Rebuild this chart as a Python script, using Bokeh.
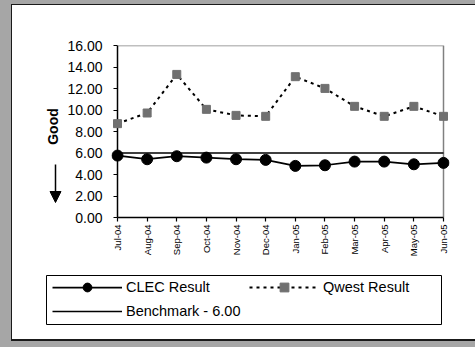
from math import pi
from bokeh.plotting import figure
from bokeh.layouts import column, row
from bokeh.models import (Range1d, NumeralTickFormatter, Legend, LegendItem,
                          Arrow, NormalHead, Spacer)
from bokeh.core.properties import value
from bokeh.embed import file_html
from bokeh.resources import INLINE

# ---------------- data ----------------
months = ["Jul-04", "Aug-04", "Sep-04", "Oct-04", "Nov-04", "Dec-04",
          "Jan-05", "Feb-05", "Mar-05", "Apr-05", "May-05", "Jun-05"]
clec_result = [5.76, 5.42, 5.70, 5.57, 5.42, 5.36, 4.80, 4.86, 5.20, 5.20, 4.95, 5.08]
qwest_result = [8.73, 9.72, 13.31, 10.06, 9.50, 9.41, 13.10, 12.01, 10.34, 9.41, 10.34, 9.41]
benchmark = [6.00, 6.00, 6.00, 6.00, 6.00, 6.00, 6.00, 6.00, 6.00, 6.00, 6.00, 6.00]
y_ticks = [0, 2, 4, 6, 8, 10, 12, 14, 16]

FONT = "Liberation Sans"
GRAY = "#a6a6a6"
DARK = "#1a1a1a"
W = 475
NAN = float("nan")


def solid(width, height, color):
    return Spacer(width=width, height=height, margin=0,
                  styles={"background-color": color})


def page_fig(width, height, x0, y0, **borders):
    """white figure whose data coordinates equal page pixels inside its frame"""
    bl, br = borders.get("left", 0), borders.get("right", 0)
    bt, bb = borders.get("top", 0), borders.get("bottom", 0)
    f = figure(width=width, height=height, output_backend="svg", toolbar_location=None,
               x_range=Range1d(x0 + bl, x0 + width - br),
               y_range=Range1d(y0 + height - bb, y0 + bt),
               x_axis_location=None, y_axis_location=None,
               min_border_left=bl, min_border_right=br, min_border_top=bt,
               min_border_bottom=bb, border_fill_color="white",
               background_fill_color="white")
    f.grid.visible = False
    f.outline_line_color = None
    return f


MAIN_TOP, MAIN_H = 5, 257
B_TOP, B_BOTTOM = 40, 45        # borders of the chart (page y 45..217)
A_X, A_W = 12, 50               # column holding "Good" and the arrow

# ---------------- "Good" column ----------------
a = page_fig(A_W, MAIN_H, A_X, MAIN_TOP, top=B_TOP, bottom=B_BOTTOM)
a.text(x=[52], y=[126], text=["Good"], angle=pi / 2, text_align="center",
       text_baseline="middle", text_font=value(FONT), text_font_style="bold",
       text_font_size="14px", text_color="black")
a.add_layout(Arrow(x_start=55, y_start=164, x_end=55, y_end=202,
                   line_color="black", line_width=1.5,
                   end=NormalHead(size=11, fill_color="black", line_color="black")))

# ---------------- main chart ----------------
x = list(range(len(months)))
x_end = len(months) - 1
frame_px = 326.0                 # plot-area width in pixels
pad_px = 6
pad = pad_px * x_end / frame_px  # room so the edge markers are not clipped
p = figure(width=W - A_X - A_W, height=MAIN_H, output_backend="svg",
           toolbar_location=None,
           x_range=Range1d(-pad, x_end + pad), y_range=Range1d(y_ticks[0], y_ticks[-1]),
           min_border_left=49, min_border_right=26, min_border_top=B_TOP,
           min_border_bottom=B_BOTTOM, border_fill_color="white",
           background_fill_color="white")
p.grid.visible = False
p.outline_line_color = None

# plot-area border: gray top/right, black value axis on the left
p.line([x[0], x[-1], x[-1]], [y_ticks[-1], y_ticks[-1], y_ticks[0]],
       line_color="#808080", line_width=1.5)
p.line([x[0], x[0]], [y_ticks[0], y_ticks[-1]], line_color="black", line_width=1.5)

bench_r = p.line(x, benchmark, line_color="black", line_width=1.5)
q_line = p.line(x, qwest_result, line_color="black", line_width=2, line_dash="3 4")
q_pts = p.scatter(x, qwest_result, marker="square", size=8, fill_color="#707070",
                  line_color="#707070")
c_line = p.line(x, clec_result, line_color="black", line_width=1.75)
c_pts = p.scatter(x, clec_result, marker="circle", size=11, fill_color="black",
                  line_color="black")

p.yaxis.ticker = y_ticks
p.yaxis.formatter = NumeralTickFormatter(format="0.00")
p.xaxis.ticker = x
p.xaxis.bounds = (x[0], x[-1])
p.xaxis.major_label_overrides = {i: m for i, m in enumerate(months)}
p.xaxis.major_label_orientation = pi / 2
for ax in (p.xaxis[0], p.yaxis[0]):
    ax.major_tick_line_color = "black"
    ax.major_tick_line_width = 1.2
    ax.minor_tick_line_color = None
    ax.major_label_text_font = FONT
    ax.major_label_text_color = "black"
p.xaxis.axis_line_color = "black"
p.xaxis.axis_line_width = 1.5
p.xaxis.major_tick_out = 4
p.xaxis.major_tick_in = 0
p.xaxis.major_label_text_font_size = "9.5px"
p.xaxis.major_label_standoff = 3
p.yaxis.axis_line_color = None
p.yaxis.major_tick_out = 4 - pad_px
p.yaxis.major_tick_in = pad_px
p.yaxis.major_label_text_font_size = "14px"
p.yaxis.major_label_standoff = 9

# ---------------- legend strip ----------------
C_TOP, C_H = 262, 77
c = page_fig(W - A_X, C_H, A_X, C_TOP)
c.quad(left=46, right=441, top=275, bottom=324, fill_color="white",
       line_color="black", line_width=1)
lc_line = c.line([NAN], [NAN], line_color="black", line_width=1.75)
lc_pts = c.scatter([NAN], [NAN], marker="circle", size=11, fill_color="black",
                   line_color="black")
lq_line = c.line([NAN], [NAN], line_color="black", line_width=2, line_dash="3 4")
lq_pts = c.scatter([NAN], [NAN], marker="square", size=8, fill_color="#707070",
                   line_color="#707070")
lb_line = c.line([NAN], [NAN], line_color="black", line_width=1.5)

legend = Legend(items=[LegendItem(label="CLEC Result", renderers=[lc_line, lc_pts]),
                       LegendItem(label="Qwest Result", renderers=[lq_line, lq_pts]),
                       LegendItem(label="Benchmark - 6.00", renderers=[lb_line])],
                location=(40, 17), orientation="horizontal", ncols=2,
                glyph_width=70, glyph_height=22, label_height=22, label_width=121,
                label_standoff=4, spacing=2, padding=0, margin=0,
                border_line_color=None, background_fill_alpha=0,
                label_text_font=FONT, label_text_font_size="14.5px",
                label_text_color="black")
c.add_layout(legend, "center")

# ---------------- frame of the picture ----------------
layout = column(
    solid(W, 4, GRAY),
    row(solid(11, 1, GRAY), solid(W - 11, 1, DARK)),
    row(solid(11, MAIN_H, GRAY), solid(1, MAIN_H, DARK), a, p),
    row(solid(11, C_H, GRAY), solid(1, C_H, DARK), c),
    row(solid(11, 2, GRAY), solid(W - 11, 2, DARK)),
    solid(W, 6, GRAY),
)
open("out.html", "w").write(file_html(layout, INLINE))
